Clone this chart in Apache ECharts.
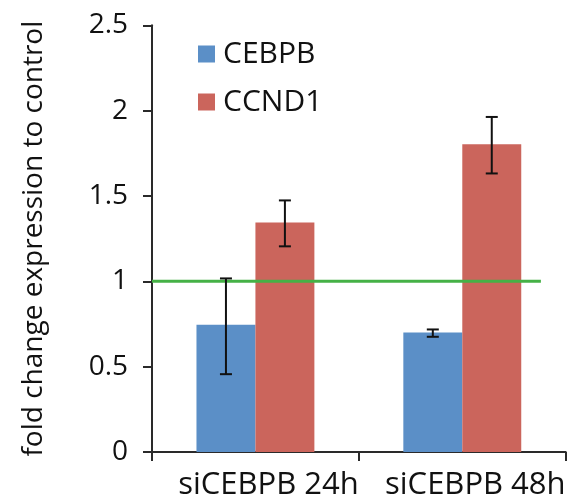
<!DOCTYPE html>
<html>
<head>
<meta charset="utf-8">
<script src="https://cdn.jsdelivr.net/npm/echarts@6/dist/echarts.min.js"></script>
<style>
  html, body { margin: 0; padding: 0; background: #fff; }
  #chart { width: 568px; height: 501px; }
</style>
</head>
<body>
<div id="chart"></div>
<script>
// Fold change of CEBPB and CCND1 after siCEBPB knockdown
const categories = ['siCEBPB 24h', 'siCEBPB 48h'];
const seriesNames = ['CEBPB', 'CCND1'];
const cebpbValues = [0.745, 0.700];
const ccnd1Values = [1.345, 1.803];
// error bar extents [low, high]
const cebpbErrors = [[0.456, 1.017], [0.675, 0.718]];
const ccnd1Errors = [[1.205, 1.474], [1.632, 1.963]];
// control reference level and its horizontal span (in category units)
const controlLevel = 1;
const controlSpan = [0, 1.88];
const yTicks = { min: 0, max: 2.5, interval: 0.5 };

const FONT = '"Open Sans", sans-serif';
const colors = ['#5b8fc7', '#cb655c'];
const CAT_GAP = 0.43;

function errorSeries(name, errs, slot) {
  return {
    type: 'custom',
    name: name + ' error',
    xAxisIndex: 0,
    yAxisIndex: 0,
    z: 5,
    silent: true,
    data: errs.map((e, i) => [i, e[0], e[1]]),
    renderItem: function (params, api) {
      const band = api.size([1, 0])[0];
      const bw = band * (1 - CAT_GAP) / 2;
      const lo = api.coord([api.value(0), api.value(1)]);
      const hi = api.coord([api.value(0), api.value(2)]);
      const x = lo[0] + (slot === 0 ? -bw / 2 : bw / 2);
      const cap = 6;
      const style = { stroke: '#111', lineWidth: 2 };
      return {
        type: 'group',
        children: [
          { type: 'line', shape: { x1: x, y1: lo[1], x2: x, y2: hi[1] }, style: style },
          { type: 'line', shape: { x1: x - cap, y1: hi[1], x2: x + cap, y2: hi[1] }, style: style },
          { type: 'line', shape: { x1: x - cap, y1: lo[1], x2: x + cap, y2: lo[1] }, style: style }
        ]
      };
    }
  };
}

const chart = echarts.init(document.getElementById('chart'), null, { renderer: 'canvas' });
chart.setOption({
  animation: false,
  backgroundColor: '#fff',
  grid: { left: 152, right: 0, top: 25.3, bottom: 48.3, containLabel: false },
  legend: {
    data: seriesNames,
    orient: 'vertical',
    left: 198,
    top: 39,
    padding: 0,
    icon: 'rect',
    itemWidth: 17,
    itemHeight: 17,
    itemGap: 18,
    textStyle: { fontFamily: FONT, fontSize: 30, color: '#111', lineHeight: 30, padding: [0, 0, 0, 3] }
  },
  xAxis: [
    {
      type: 'category',
      data: categories,
      axisLine: { lineStyle: { color: '#2a2a2a', width: 2 } },
      axisTick: { show: true, length: 9, lineStyle: { color: '#2a2a2a', width: 2 } },
      axisLabel: {
        interval: 0,
        hideOverlap: false,
        fontFamily: FONT,
        fontSize: 31,
        color: '#111',
        margin: 18,
        padding: [0, 0, 0, 26]
      }
    },
    {
      type: 'value',
      min: 0,
      max: 2,
      show: false
    }
  ],
  yAxis: {
    type: 'value',
    min: yTicks.min,
    max: yTicks.max,
    interval: yTicks.interval,
    name: 'fold change expression to control',
    nameLocation: 'middle',
    nameGap: 104,
    nameTextStyle: { fontFamily: FONT, fontSize: 28, color: '#111' },
    axisLine: { show: true, lineStyle: { color: '#2a2a2a', width: 2 } },
    axisTick: { show: true, length: 9, lineStyle: { color: '#2a2a2a', width: 2 } },
    axisLabel: { fontFamily: FONT, fontSize: 28, color: '#111', margin: 24 },
    splitLine: { show: false }
  },
  series: [
    {
      name: seriesNames[0],
      type: 'bar',
      data: cebpbValues,
      itemStyle: { color: colors[0] },
      barGap: '0%',
      barCategoryGap: (CAT_GAP * 100) + '%'
    },
    {
      name: seriesNames[1],
      type: 'bar',
      data: ccnd1Values,
      itemStyle: { color: colors[1] },
      barGap: '0%',
      barCategoryGap: (CAT_GAP * 100) + '%'
    },
    errorSeries(seriesNames[0], cebpbErrors, 0),
    errorSeries(seriesNames[1], ccnd1Errors, 1),
    {
      type: 'line',
      name: 'control',
      xAxisIndex: 1,
      yAxisIndex: 0,
      z: 4,
      silent: true,
      symbol: 'none',
      data: controlSpan.map(x => [x, controlLevel]),
      lineStyle: { color: '#45b146', width: 3 }
    }
  ]
});
</script>
</body>
</html>
